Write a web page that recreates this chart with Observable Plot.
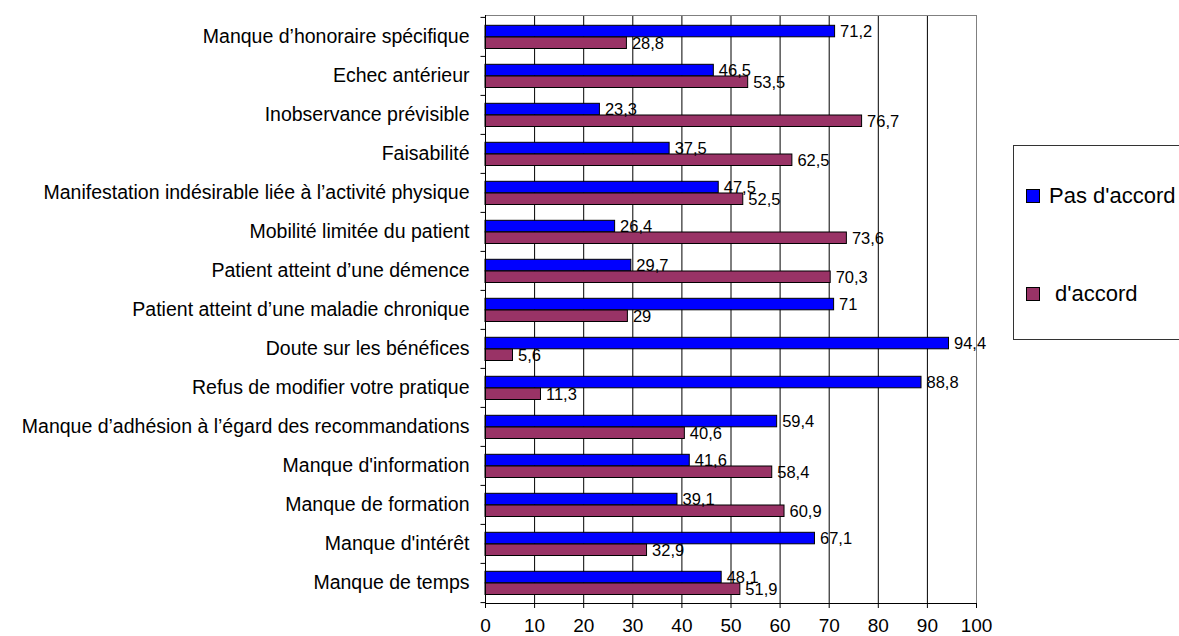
<!DOCTYPE html>
<html>
<head>
<meta charset="utf-8">
<script src="https://cdn.jsdelivr.net/npm/d3@7"></script>
<script src="https://cdn.jsdelivr.net/npm/@observablehq/plot@0.6"></script>
<style>
  html, body { margin: 0; padding: 0; background: #fff; overflow: hidden; }
  #wrap { position: relative; width: 1179px; height: 636px; font-family: "Liberation Sans", Arial, sans-serif; }
  #legend { position: absolute; left: 1013px; top: 145px; width: 220px; height: 195px; border: 1px solid #333; box-sizing: border-box; background: #fff; }
  .item { position: absolute; display: flex; align-items: center; font-size: 22px; color: #000; white-space: pre; }
  .sw { width: 12px; height: 12px; border: 1px solid #000; margin-right: 9px; flex: none; }
</style>
</head>
<body>
<div id="wrap"></div>
<script>
const categories = [
  "Manque d’honoraire spécifique",
  "Echec antérieur",
  "Inobservance prévisible",
  "Faisabilité",
  "Manifestation indésirable liée à l’activité physique",
  "Mobilité limitée du patient",
  "Patient atteint d’une démence",
  "Patient atteint d’une maladie chronique",
  "Doute sur les bénéfices",
  "Refus de modifier votre pratique",
  "Manque d’adhésion à l’égard des recommandations",
  "Manque d'information",
  "Manque de formation",
  "Manque d'intérêt",
  "Manque de temps"
];
const seriesNames = ["Pas d'accord", "d'accord"];
const pasDaccord = [71.2, 46.5, 23.3, 37.5, 47.5, 26.4, 29.7, 71, 94.4, 88.8, 59.4, 41.6, 39.1, 67.1, 48.1];
const daccord    = [28.8, 53.5, 76.7, 62.5, 52.5, 73.6, 70.3, 29, 5.6, 11.3, 40.6, 58.4, 60.9, 32.9, 51.9];
const xTicks = [0, 10, 20, 30, 40, 50, 60, 70, 80, 90, 100];
const colors = ["#0000ff", "#993366"];

const W = 1179, H = 636;
const mL = 485, mR = 203, mT = 15, mB = 33;
const step = (H - mT - mB) / categories.length;

const rowsPas = categories.map((c, i) => ({cat: c, v: pasDaccord[i]}));
const rowsAcc = categories.map((c, i) => ({cat: c, v: daccord[i]}));
const fmt = v => String(v).replace(".", ",");
const font = "Liberation Sans, Arial, sans-serif";

const chart = Plot.plot({
  width: W, height: H,
  marginLeft: mL, marginRight: mR, marginTop: mT, marginBottom: mB,
  style: {fontFamily: font, background: "#fff", color: "#000"},
  x: {domain: [0, 100], label: null},
  y: {domain: categories, padding: 0, label: null},
  marks: [
    Plot.ruleX(xTicks.filter(d => d > 0 && d < 100), {stroke: "#000", strokeWidth: 1}),
    Plot.ruleX([100], {stroke: "#808080", strokeWidth: 1}),
    Plot.frame({anchor: "top", stroke: "#808080"}),
    Plot.barX(rowsPas, {y: "cat", x: "v", fill: colors[0], stroke: "#000", strokeWidth: 1, insetTop: 8.3, insetBottom: step - 20}),
    Plot.barX(rowsAcc, {y: "cat", x: "v", fill: colors[1], stroke: "#000", strokeWidth: 1, insetTop: 20, insetBottom: step - 31.7}),
    Plot.text(rowsPas, {y: "cat", x: "v", text: d => fmt(d.v), dx: 5, dy: -5, textAnchor: "start", fontSize: 16.5, fill: "#000"}),
    Plot.text(rowsAcc, {y: "cat", x: "v", text: d => fmt(d.v), dx: 5, dy: 6.5, textAnchor: "start", fontSize: 16.5, fill: "#000"}),
    Plot.ruleX([0], {stroke: "#000", strokeWidth: 1}),
    Plot.frame({anchor: "bottom", stroke: "#000"}),
    Plot.link(categories, {x1: -1.02, x2: 0, y1: d => d, y2: d => d, dy: -step / 2, stroke: "#000"}),
    Plot.link(categories.slice(-1), {x1: -1.02, x2: 0, y1: d => d, y2: d => d, dy: step / 2, stroke: "#000"}),
    Plot.axisX({ticks: xTicks, tickSize: 5, tickPadding: 10, fontSize: 19, tickFormat: d => String(d), label: null}),
    Plot.axisY({tickSize: 0, tickPadding: 16, fontSize: 19.5, label: null})
  ]
});

const wrap = document.getElementById("wrap");
wrap.appendChild(chart);

const legend = document.createElement("div");
legend.id = "legend";
seriesNames.forEach((name, i) => {
  const item = document.createElement("div");
  item.className = "item";
  item.style.left = "12px";
  item.style.top = (i === 0 ? 37 : 135) + "px";
  const sw = document.createElement("span");
  sw.className = "sw";
  sw.style.background = colors[i];
  const label = document.createElement("span");
  label.textContent = (i === 0 ? "" : " ") + name;
  item.appendChild(sw);
  item.appendChild(label);
  legend.appendChild(item);
});
wrap.appendChild(legend);
</script>
</body>
</html>
